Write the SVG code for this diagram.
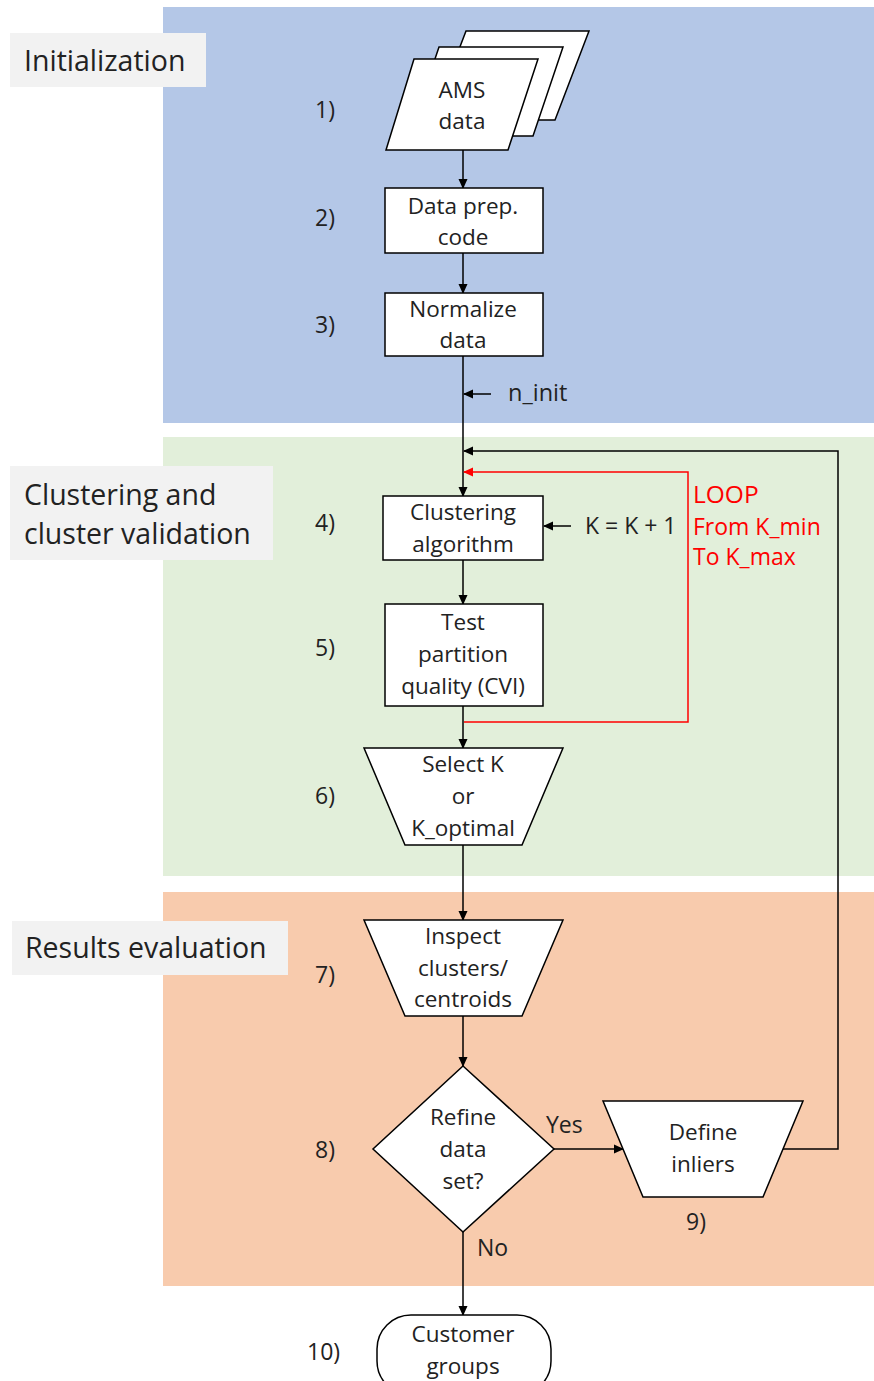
<svg xmlns="http://www.w3.org/2000/svg" width="874" height="1381" viewBox="0 0 874 1381">
  <defs>
    <marker id="ah" markerWidth="10" markerHeight="10" refX="9" refY="5" orient="auto" markerUnits="userSpaceOnUse">
      <path d="M0,0.5 L10,5 L0,9.5 Z" fill="#000"/>
    </marker>
    <marker id="ahr" markerWidth="10" markerHeight="10" refX="9" refY="5" orient="auto" markerUnits="userSpaceOnUse">
      <path d="M0,0.5 L10,5 L0,9.5 Z" fill="#ff0000"/>
    </marker>
    <style>
      text { font-family: "Open Sans", "Liberation Sans", sans-serif; fill: #222; }
      .node { fill: #fff; stroke: #000; stroke-width: 1.5; }
      .t { font-size: 22.5px; text-anchor: middle; }
      .num { font-size: 23px; }
      .band-label { font-size: 28.5px; }
      .lab { fill: #f2f2f2; }
      .edge { fill: none; stroke: #000; stroke-width: 1.5; }
      .loop { fill: none; stroke: #ff0000; stroke-width: 1.5; }
      .red { fill: #ff0000; }
    </style>
  </defs>

  <!-- background bands -->
  <g id="bands">
    <rect x="163" y="7" width="711" height="416" fill="#b4c7e7"/>
    <rect x="163" y="437" width="711" height="439" fill="#e2efda"/>
    <rect x="163" y="892" width="711" height="394" fill="#f8cbad"/>
  </g>

  <!-- phase labels -->
  <g id="label-init">
    <rect class="lab" x="10" y="33" width="196" height="54"/>
    <text class="band-label" x="24" y="71">Initialization</text>
  </g>
  <g id="label-cluster">
    <rect class="lab" x="10" y="466" width="263" height="94"/>
    <text class="band-label" x="24" y="505">Clustering and</text>
    <text class="band-label" x="24" y="544">cluster validation</text>
  </g>
  <g id="label-results">
    <rect class="lab" x="12" y="921" width="276" height="54"/>
    <text class="band-label" x="25" y="958">Results evaluation</text>
  </g>

  <!-- connectors -->
  <g id="connectors">
    <line class="edge" x1="463" y1="150" x2="463" y2="188" marker-end="url(#ah)"/>
    <line class="edge" x1="463" y1="253" x2="463" y2="293" marker-end="url(#ah)"/>
    <line class="edge" x1="463" y1="356" x2="463" y2="496" marker-end="url(#ah)"/>
    <line class="edge" x1="491" y1="394" x2="464" y2="394" marker-end="url(#ah)"/>
    <line class="edge" x1="571" y1="526" x2="544" y2="526" marker-end="url(#ah)"/>
    <line class="edge" x1="463" y1="560" x2="463" y2="604" marker-end="url(#ah)"/>
    <line class="edge" x1="463" y1="706" x2="463" y2="748" marker-end="url(#ah)"/>
    <polyline class="loop" points="464,722 688,722 688,472 464,472" marker-end="url(#ahr)"/>
    <line class="edge" x1="463" y1="845" x2="463" y2="920" marker-end="url(#ah)"/>
    <line class="edge" x1="463" y1="1016" x2="463" y2="1066" marker-end="url(#ah)"/>
    <line class="edge" x1="554" y1="1149" x2="623" y2="1149" marker-end="url(#ah)"/>
    <polyline class="edge" points="783,1149 838,1149 838,451 464,451" marker-end="url(#ah)"/>
    <line class="edge" x1="463" y1="1232" x2="463" y2="1315" marker-end="url(#ah)"/>
    <text class="num" x="508" y="401" style="font-size:23.5px">n_init</text>
    <text class="num" x="585" y="534">K = K + 1</text>
    <text class="red" x="693" y="503" style="font-size:24.5px">LOOP</text>
    <text class="red" x="693" y="535" style="font-size:23px">From K_min</text>
    <text class="red" x="693" y="565" style="font-size:23px">To K_max</text>
    <text class="num" x="546" y="1133">Yes</text>
    <text class="num" x="477" y="1256">No</text>
  </g>

  <!-- nodes -->
  <g id="n1">
    <polygon class="node" points="466,31 589,31 555,120 432,120"/>
    <polygon class="node" points="439,47 563,47 533,136 409,136"/>
    <polygon class="node" points="414,59 538,59 508,150 386,150"/>
    <text class="t" x="462" y="98">AMS</text>
    <text class="t" x="462" y="129">data</text>
    <text class="num" x="315" y="118">1)</text>
  </g>
  <g id="n2">
    <rect class="node" x="385" y="188" width="158" height="65"/>
    <text class="t" x="463" y="214">Data prep.</text>
    <text class="t" x="463" y="245">code</text>
    <text class="num" x="315" y="226">2)</text>
  </g>
  <g id="n3">
    <rect class="node" x="385" y="293" width="158" height="63"/>
    <text class="t" x="463" y="317">Normalize</text>
    <text class="t" x="463" y="348">data</text>
    <text class="num" x="315" y="333">3)</text>
  </g>
  <g id="n4">
    <rect class="node" x="383" y="496" width="160" height="64"/>
    <text class="t" x="463" y="520">Clustering</text>
    <text class="t" x="463" y="552">algorithm</text>
    <text class="num" x="315" y="531">4)</text>
  </g>
  <g id="n5">
    <rect class="node" x="385" y="604" width="158" height="102"/>
    <text class="t" x="463" y="630">Test</text>
    <text class="t" x="463" y="662">partition</text>
    <text class="t" x="463" y="694">quality (CVI)</text>
    <text class="num" x="315" y="656">5)</text>
  </g>
  <g id="n6">
    <polygon class="node" points="364,748 563,748 522,845 405,845"/>
    <text class="t" x="463" y="772">Select K</text>
    <text class="t" x="463" y="804">or</text>
    <text class="t" x="463" y="836">K_optimal</text>
    <text class="num" x="315" y="804">6)</text>
  </g>
  <g id="n7">
    <polygon class="node" points="364,920 563,920 522,1016 405,1016"/>
    <text class="t" x="463" y="944">Inspect</text>
    <text class="t" x="463" y="976">clusters/</text>
    <text class="t" x="463" y="1007">centroids</text>
    <text class="num" x="315" y="983">7)</text>
  </g>
  <g id="n8">
    <polygon class="node" points="463,1066 554,1149 463,1232 373,1149"/>
    <text class="t" x="463" y="1125">Refine</text>
    <text class="t" x="463" y="1157">data</text>
    <text class="t" x="463" y="1189">set?</text>
    <text class="num" x="315" y="1158">8)</text>
  </g>
  <g id="n9">
    <polygon class="node" points="603,1101 803,1101 763,1197 643,1197"/>
    <text class="t" x="703" y="1140">Define</text>
    <text class="t" x="703" y="1172">inliers</text>
    <text class="num" x="686" y="1230">9)</text>
  </g>
  <g id="n10">
    <rect class="node" x="377" y="1315" width="174" height="80" rx="34" ry="34"/>
    <text class="t" x="463" y="1342">Customer</text>
    <text class="t" x="463" y="1374">groups</text>
    <text class="num" x="307" y="1360">10)</text>
  </g>
</svg>
